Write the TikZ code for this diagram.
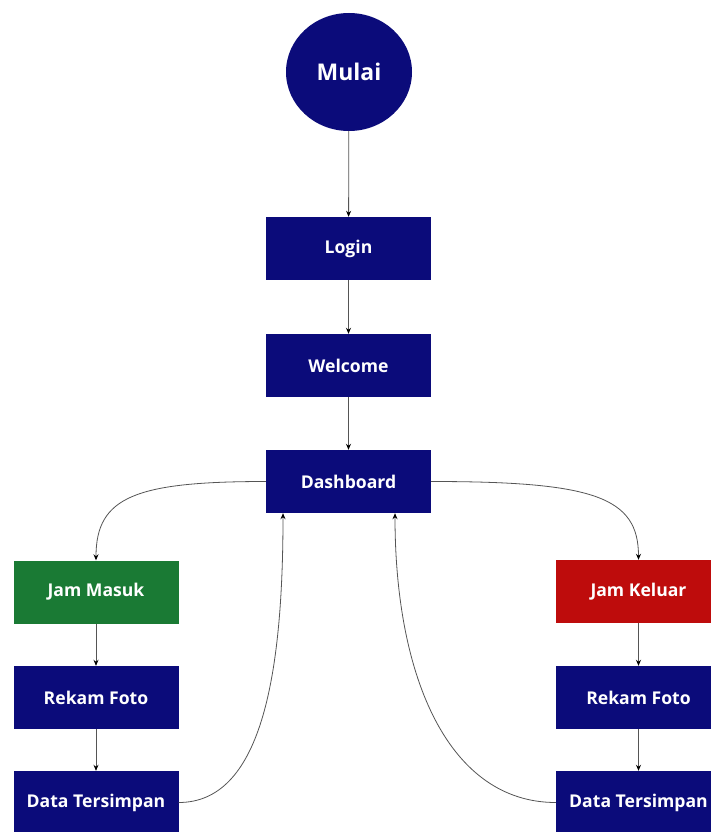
\documentclass[tikz,border=0pt]{standalone}
\usepackage{fontspec}
\setmainfont{Open Sans}
\usetikzlibrary{arrows.meta,shapes.geometric}
\definecolor{navy}{RGB}{11,11,122}
\definecolor{jgreen}{RGB}{26,122,52}
\definecolor{jred}{RGB}{190,12,12}
\definecolor{lgray}{RGB}{85,85,85}
\tikzset{
  box/.style={rectangle, fill=navy, text=white, minimum width=165pt, minimum height=63pt, inner sep=0pt, font=\fontsize{17.6}{21}\selectfont\bfseries},
  conn/.style={draw=lgray, line width=0.8pt, -{Stealth[length=6pt,width=5pt,black]}}
}
\begin{document}
\begin{tikzpicture}[x=1pt,y=-1pt]
\useasboundingbox (0,0) rectangle (711,832);
\fill[white] (0,0) rectangle (711,832);
\node[ellipse, fill=navy, text=white, minimum width=126pt, minimum height=118pt, inner sep=0pt, font=\fontsize{23}{27}\selectfont\bfseries] (mulai) at (349,72) {Mulai};
\node[box] (login) at (348.5,248.5) {Login};
\node[box] (welcome) at (348.5,365.5) {Welcome};
\node[box] (dash) at (348.5,481.5) {Dashboard};
\node[box, fill=jgreen] (jm) at (96,592) {Jam Masuk};
\node[box] (rf1) at (96,697.5) {Rekam Foto};
\node[box] (dt1) at (96,802.5) {Data Tersimpan};
\node[box, fill=jred] (jk) at (638.5,591.5) {Jam Keluar};
\node[box] (rf2) at (638.5,697.5) {Rekam Foto};
\node[box] (dt2) at (638.5,802.5) {Data Tersimpan};
\draw[conn] (mulai) -- (login);
\draw[conn] (login) -- (welcome);
\draw[conn] (welcome) -- (dash);
\draw[conn] (dash.west) .. controls (135,481.5) and (96,497) .. (jm.north);
\draw[conn] (dash.east) .. controls (594,481.5) and (638.5,497) .. (jk.north);
\draw[conn] (jm) -- (rf1);
\draw[conn] (rf1) -- (dt1);
\draw[conn] (jk) -- (rf2);
\draw[conn] (rf2) -- (dt2);
\draw[conn] (dt1.east) .. controls (260,802.5) and (283,680) .. (dash.south -| 283,0);
\draw[conn] (dt2.west) .. controls (450,802.5) and (395,680) .. (dash.south -| 395,0);
\end{tikzpicture}
\end{document}
